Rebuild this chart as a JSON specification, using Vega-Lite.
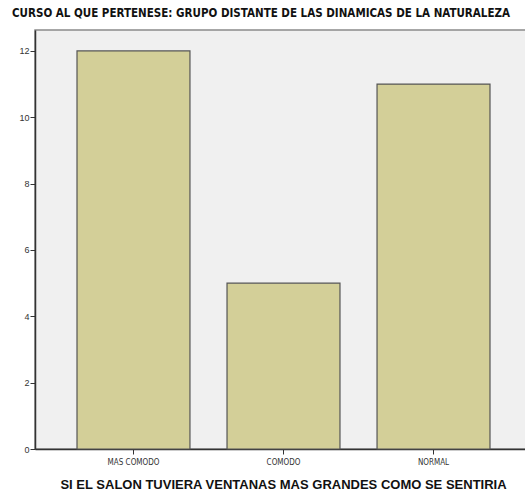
{
  "$schema": "https://vega.github.io/schema/vega-lite/v6.json",
  "width": 497,
  "height": 419,
  "autosize": {"type": "none"},
  "padding": {"left": 35, "top": 30, "right": 0, "bottom": 45},
  "background": "white",
  "title": {
    "text": "CURSO AL QUE PERTENESE: GRUPO DISTANTE DE LAS DINAMICAS DE LA NATURALEZA",
    "anchor": "start",
    "frame": "group",
    "offset": 11,
    "dx": -23,
    "font": "'DejaVu Sans Condensed', 'Liberation Sans'",
    "fontSize": 11.5,
    "fontWeight": "bold",
    "color": "#111"
  },
  "config": {
    "view": {"fill": "#F0F0F0", "stroke": "#8a8a8a", "strokeWidth": 1.5}
  },
  "data": {
    "values": [
      {"respuesta": "MAS COMODO", "recuento": 12},
      {"respuesta": "COMODO", "recuento": 5},
      {"respuesta": "NORMAL", "recuento": 11}
    ]
  },
  "mark": {"type": "bar", "fill": "#D3CF98", "stroke": "#555555", "strokeWidth": 1.2},
  "encoding": {
    "x": {
      "field": "respuesta",
      "type": "nominal",
      "sort": ["MAS COMODO", "COMODO", "NORMAL"],
      "scale": {"paddingInner": 0.247, "paddingOuter": 0.28},
      "axis": {
        "title": "SI EL SALON TUVIERA VENTANAS MAS GRANDES COMO SE SENTIRIA",
        "titleFont": "Liberation Sans",
        "titleFontSize": 13,
        "titleFontWeight": "bold",
        "titleColor": "#111",
        "titlePadding": 12,
        "titleX": 248,
        "titleAnchor": "middle",
        "labelAngle": 0,
        "labelFont": "'DejaVu Sans Condensed', 'Liberation Sans'",
        "labelFontSize": 8,
        "labelColor": "#333",
        "labelPadding": 4,
        "tickSize": 5,
        "tickColor": "#333",
        "domainColor": "#333",
        "domainWidth": 1.5
      }
    },
    "y": {
      "field": "recuento",
      "type": "quantitative",
      "scale": {"domain": [0, 12.63], "nice": false},
      "axis": {
        "title": null,
        "values": [0, 2, 4, 6, 8, 10, 12],
        "grid": false,
        "labelFont": "Liberation Sans",
        "labelFontSize": 9,
        "labelColor": "#333",
        "labelPadding": 1,
        "tickSize": 5,
        "tickColor": "#333",
        "domainColor": "#333",
        "domainWidth": 1.5
      }
    }
  }
}
